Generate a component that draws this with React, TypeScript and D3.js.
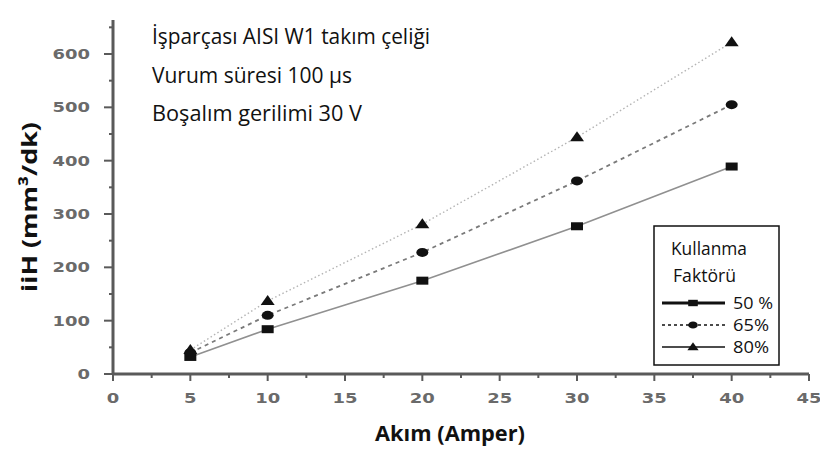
import React from "react";
import * as d3 from "d3";

// Akım (A) values and removal rates (mm³/dk) for each duty factor
const currents = [5, 10, 20, 30, 40];
const series50 = [32, 84, 175, 277, 389];
const series65 = [40, 110, 228, 362, 505];
const series80 = [45, 137, 281, 444, 622];
const seriesLabels = ["50 %", "65%", "80%"];
const xTicks = [0, 5, 10, 15, 20, 25, 30, 35, 40, 45];
const yTicks = [0, 100, 200, 300, 400, 500, 600];
const infoLines = [
  "İşparçası AISI W1 takım çeliği",
  "Vurum süresi 100  µs",
  "Boşalım  gerilimi 30 V",
];

const W = 820;
const H = 450;
const x = d3.scaleLinear().domain([0, 45]).range([113, 809]);
const y = d3.scaleLinear().domain([0, 600]).range([374, 54]);

const axisColor = "#5a5a5a";
const tickFont = "'DejaVu Sans', Verdana, sans-serif";
const textFont = "'Open Sans', 'Noto Sans', sans-serif";

type Shape = "square" | "circle" | "triangle";

function Marker({ cx, cy, shape, s = 1 }: { cx: number; cy: number; shape: Shape; s?: number }) {
  if (shape === "square")
    return <rect x={cx - 6 * s} y={cy - 4 * s} width={12 * s} height={8 * s} fill="#111" />;
  if (shape === "circle")
    return <ellipse cx={cx} cy={cy} rx={6 * s} ry={4.5 * s} fill="#111" />;
  const tri = d3.path();
  tri.moveTo(cx, cy - 6 * s);
  tri.lineTo(cx + 7 * s, cy + 4 * s);
  tri.lineTo(cx - 7 * s, cy + 4 * s);
  tri.closePath();
  return <path d={tri.toString()} fill="#111" />;
}

const seriesDefs = [
  { values: series50, shape: "square" as Shape, stroke: "#909090", width: 1.6, dash: undefined },
  { values: series65, shape: "circle" as Shape, stroke: "#7a7a7a", width: 1.8, dash: "4 4" },
  { values: series80, shape: "triangle" as Shape, stroke: "#b4b4b4", width: 1.4, dash: "1.5 2.5" },
];

export default function App() {
  const line = d3
    .line<number>()
    .x((_, i) => x(currents[i]))
    .y((v) => y(v));

  const minorX = d3.range(2.5, 45, 5);
  const minorY = d3.range(50, 700, 100);

  return (
    <svg
      width={W}
      height={H}
      style={{ position: "absolute", left: 0, top: 0, background: "#fff" }}
    >
      {/* axes */}
      <line x1={x(0)} x2={x(0)} y1={20} y2={y(0) + 1} stroke={axisColor} strokeWidth={3} />
      <line x1={x(0) - 1} x2={x(45)} y1={y(0)} y2={y(0)} stroke={axisColor} strokeWidth={3} />

      {yTicks.map((t) => (
        <g key={"y" + t}>
          <line x1={x(0) - 9} x2={x(0)} y1={y(t)} y2={y(t)} stroke={axisColor} strokeWidth={2} />
          <text
            x={x(0) - 23}
            y={y(t)}
            dy="0.36em"
            textAnchor="end"
            fontFamily={tickFont}
            fontWeight="bold"
            fontSize={14}
            fill="#6a6a6a"
            textLength={String(t).length * 12.5}
            lengthAdjust="spacingAndGlyphs"
          >
            {t}
          </text>
        </g>
      ))}
      {minorY.map((t) => (
        <line key={"my" + t} x1={x(0) - 4} x2={x(0)} y1={y(t)} y2={y(t)} stroke={axisColor} strokeWidth={2} />
      ))}

      {xTicks.map((t) => (
        <g key={"x" + t}>
          <line x1={x(t)} x2={x(t)} y1={y(0)} y2={y(0) + 7} stroke={axisColor} strokeWidth={2} />
          <text
            x={x(t)}
            y={y(0) + 29}
            textAnchor="middle"
            fontFamily={tickFont}
            fontWeight="bold"
            fontSize={14}
            fill="#6a6a6a"
            textLength={String(t).length * 12.5}
            lengthAdjust="spacingAndGlyphs"
          >
            {t}
          </text>
        </g>
      ))}
      {minorX.map((t) => (
        <line key={"mx" + t} x1={x(t)} x2={x(t)} y1={y(0)} y2={y(0) + 4} stroke={axisColor} strokeWidth={2} />
      ))}

      {/* series lines and markers */}
      {seriesDefs.map((s, k) => (
        <g key={"s" + k}>
          <path
            d={line(s.values) || ""}
            fill="none"
            stroke={s.stroke}
            strokeWidth={s.width}
            strokeDasharray={s.dash}
          />
          {s.values.map((v, i) => (
            <Marker key={i} cx={x(currents[i])} cy={y(v)} shape={s.shape} />
          ))}
        </g>
      ))}

      {/* info text */}
      {infoLines.map((t, i) => (
        <text
          key={"info" + i}
          x={152}
          y={44 + i * 38.5}
          fontFamily={textFont}
          fontSize={21}
          fill="#111"
          textLength={[278, 200, 210][i]}
          lengthAdjust="spacingAndGlyphs"
        >
          {t}
        </text>
      ))}

      {/* axis titles */}
      <text
        transform={`translate(37,207) rotate(-90)`}
        textAnchor="middle"
        fontFamily={textFont}
        fontWeight="bold"
        fontSize={22}
        fill="#111"
        textLength={170}
        lengthAdjust="spacingAndGlyphs"
      >
        iiH  (mm³/dk)
      </text>
      <text
        x={450}
        y={441}
        textAnchor="middle"
        fontFamily={textFont}
        fontWeight="bold"
        fontSize={21}
        fill="#111"
        textLength={150}
        lengthAdjust="spacingAndGlyphs"
      >
        Akım (Amper)
      </text>

      {/* legend */}
      <g>
        <rect x={654} y={226} width={125} height={139} fill="#fff" stroke="#111" strokeWidth={1.5} />
        <text x={671} y={255} fontFamily={textFont} fontSize={19} fill="#111" textLength={76} lengthAdjust="spacingAndGlyphs">
          Kullanma
        </text>
        <text x={673} y={282} fontFamily={textFont} fontSize={19} fill="#111" textLength={63} lengthAdjust="spacingAndGlyphs">
          Faktörü
        </text>
        {seriesDefs.map((s, k) => {
          const ly = 303 + k * 22;
          return (
            <g key={"lg" + k}>
              <line
                x1={662}
                x2={725}
                y1={ly}
                y2={ly}
                stroke="#111"
                strokeWidth={k === 0 ? 3 : 1.6}
                strokeDasharray={k === 1 ? "3 3" : undefined}
              />
              <Marker cx={693} cy={ly} shape={s.shape} s={0.8} />
              <text x={733} y={ly + 6} fontFamily={textFont} fontSize={17} fill="#111" textLength={k === 0 ? 40 : 36} lengthAdjust="spacingAndGlyphs">
                {seriesLabels[k]}
              </text>
            </g>
          );
        })}
      </g>
    </svg>
  );
}
